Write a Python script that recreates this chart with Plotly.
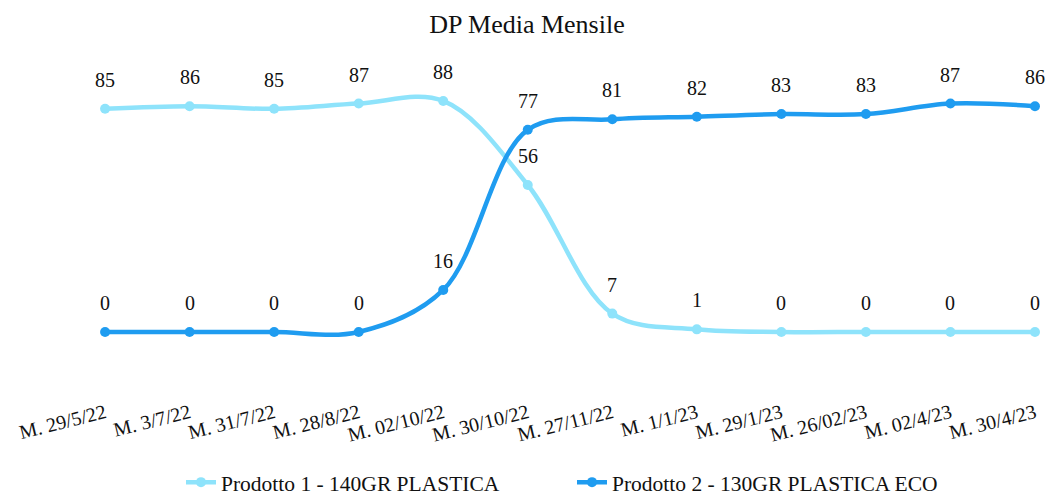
import plotly.graph_objects as go

categories = ["M. 29/5/22", "M. 3/7/22", "M. 31/7/22", "M. 28/8/22", "M. 02/10/22", "M. 30/10/22",
              "M. 27/11/22", "M. 1/1/23", "M. 29/1/23", "M. 26/02/23", "M. 02/4/23", "M. 30/4/23"]
prodotto1 = [85, 86, 85, 87, 88, 56, 7, 1, 0, 0, 0, 0]
prodotto2 = [0, 0, 0, 0, 16, 77, 81, 82, 83, 83, 87, 86]

xs = list(range(len(categories)))
FONT = "Liberation Serif"
C1 = "#8ee3fb"
C2 = "#1f9cf0"

fig = go.Figure()
fig.add_trace(go.Scatter(
    x=xs, y=prodotto1, name="Prodotto 1 - 140GR PLASTICA", mode="lines+markers",
    line=dict(color=C1, width=4.5, shape="spline", smoothing=1),
    marker=dict(size=10, color=C1), cliponaxis=False))
fig.add_trace(go.Scatter(
    x=xs, y=prodotto2, name="Prodotto 2 - 130GR PLASTICA ECO", mode="lines+markers",
    line=dict(color=C2, width=4.5, shape="spline", smoothing=1),
    marker=dict(size=10, color=C2), cliponaxis=False))

for series in (prodotto1, prodotto2):
    for x, v in zip(xs, series):
        fig.add_annotation(x=x, y=v, text=str(v), showarrow=False, yshift=29,
                           font=dict(family=FONT, size=20, color="#111"))

fig.update_layout(
    width=1054, height=498,
    paper_bgcolor="white", plot_bgcolor="white",
    margin=dict(l=0, r=0, t=60, b=113, autoexpand=False),
    title=dict(text="DP Media Mensile", x=0.5, xanchor="center", y=0.952, yanchor="middle",
               font=dict(family=FONT, size=26, color="#111")),
    font=dict(family=FONT, size=20, color="#111"),
    showlegend=True,
    legend=dict(orientation="h", x=181 / 1054, xanchor="left", y=-0.362, yanchor="bottom",
                font=dict(family=FONT, size=21.5, color="#111"),
                entrywidth=346, entrywidthmode="pixels", tracegroupgap=0),
    xaxis=dict(tickmode="array", tickvals=xs, ticktext=categories, tickangle=-14,
               range=[-1.243, 11.225], showgrid=False, zeroline=False, showline=False,
               ticks="", automargin=False, ticklabelstandoff=12,
               tickfont=dict(family=FONT, size=20, color="#111")),
    yaxis=dict(range=[-20.2, 103.6], visible=False, automargin=False),
)

fig.write_html("out.html")
